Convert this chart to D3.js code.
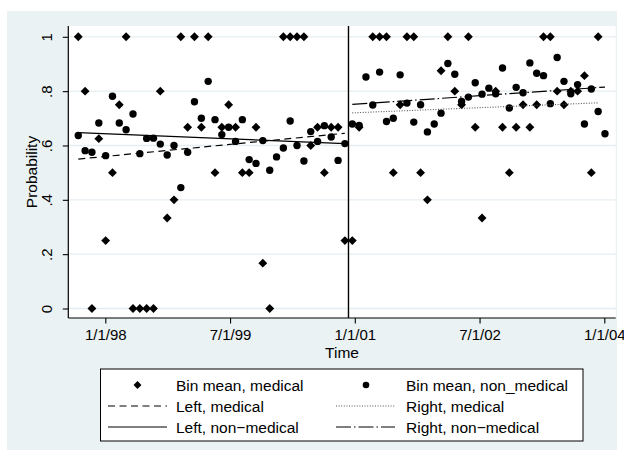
<!DOCTYPE html>
<html lang="en">
<head>
<meta charset="utf-8">
<title>Probability over time</title>
<script src="https://cdn.jsdelivr.net/npm/d3@7"></script>
<style>
  body { margin: 0; background: #fff; }
  text { font-family: "Liberation Sans", Arial, sans-serif; fill: #000; }
</style>
</head>
<body>
<script>

// bin midpoints (decimal years), left and right of the cutoff
var leftBins = [1997.675, 1997.757, 1997.839, 1997.922, 1998.004, 1998.086, 1998.168, 1998.250,
  1998.333, 1998.415, 1998.497, 1998.579, 1998.661, 1998.744, 1998.826, 1998.908, 1998.990,
  1999.072, 1999.155, 1999.237, 1999.319, 1999.401, 1999.483, 1999.566, 1999.648, 1999.730,
  1999.812, 1999.894, 1999.977, 2000.059, 2000.141, 2000.223, 2000.305, 2000.388, 2000.470,
  2000.552, 2000.634, 2000.716, 2000.799, 2000.881];
var rightBins = [2000.970, 2001.052, 2001.134, 2001.216, 2001.298, 2001.381, 2001.463, 2001.545,
  2001.627, 2001.709, 2001.791, 2001.873, 2001.955, 2002.037, 2002.119, 2002.202, 2002.284,
  2002.366, 2002.448, 2002.530, 2002.612, 2002.694, 2002.776, 2002.858, 2002.940, 2003.023,
  2003.105, 2003.187, 2003.269, 2003.351, 2003.433, 2003.515, 2003.597, 2003.679, 2003.761,
  2003.844, 2003.926, 2004.008];

var medLeft = [1, .8, 0, .625, .25, .5, .75, 1, 0, 0, 0, 0, .8, .333, .4, 1, .667, 1, .667, 1,
  .5, .667, .75, .667, .5, .5, .667, .167, 0, null, 1, 1, 1, 1, .6, .667, .5, .667, .667, .25];
var nonLeft = [.637, .581, .575, .683, .5625, .781, .683, .658, .716, .570, .626, .627, .605, .565,
  .60, .445, .575, .761, .70, .836, .695, .64, .667, .615, .695, .548, .534, .618, .509, .558,
  .591, .69, .60, .543, .651, .615, .673, .631, .545, .607];
var medRight = [.25, .667, null, 1, 1, 1, .5, .75, 1, 1, .5, .4, null, .875, 1, .8, .75, 1, .667,
  .333, null, .8, .667, .5, .667, .75, .667, .75, 1, 1, .8, .75, .8, .8, .857, .5, 1, null];
var nonRight = [.679, .674, .852, .749, .870, .688, .70, .860, .756, .686, .75, .65, .679, .719,
  .902, .862, .762, .778, .831, .789, .811, .79, .885, .738, .814, .794, .904, .866, .857, .754,
  .924, .836, .79, .824, .679, .808, .725, .643];

// fitted lines: [x0, y0, x1, y1]
var fitLeftMed = [1997.675, .550, 2000.881, .645];
var fitLeftNon = [1997.675, .647, 2000.881, .607];
var fitRightMed = [2000.970, .720, 2003.926, .757];
var fitRightNon = [2000.970, .751, 2004.008, .815];

var cutoff = 2000.924;

var xTicks = [1998, 1999.5, 2001, 2002.5, 2004];
var xTickLabels = ["1/1/98", "7/1/99", "1/1/01", "7/1/02", "1/1/04"];
var yTicks = [0, .2, .4, .6, .8, 1];
var yTickLabels = ["0", ".2", ".4", ".6", ".8", "1"];

var width = 624, height = 460;
var plot = {left: 68.3, right: 615.7, top: 26, bottom: 318};

var xscale = d3.scaleLinear().domain([1997.555, 2004.137]).range([plot.left, plot.right]);
var yscale = d3.scaleLinear().domain([0, 1]).range([308.5, 36.8]);

var svg = d3.select("body").append("svg")
  .attr("width", width)
  .attr("height", height);

svg.append("rect").attr("x", 7).attr("y", 11).attr("width", 610).attr("height", 439)
  .attr("fill", "#eaf2f3");
svg.append("rect")
  .attr("x", plot.left).attr("y", plot.top)
  .attr("width", plot.right - plot.left).attr("height", plot.bottom - plot.top)
  .attr("fill", "#fff");

// grid
svg.selectAll("line.grid").data(yTicks).enter().append("line")
  .attr("class", "grid")
  .attr("x1", plot.left).attr("x2", plot.right)
  .attr("y1", function(d){ return yscale(d); })
  .attr("y2", function(d){ return yscale(d); })
  .attr("stroke", "#e4edf0").attr("stroke-width", 1.3);

// axes
var yAxis = d3.axisLeft(yscale).tickValues(yTicks).tickSize(5.5)
  .tickFormat(function(d, i){ return yTickLabels[i]; });
var gy = svg.append("g").attr("transform", "translate(" + plot.left + ",0)").call(yAxis);
gy.select(".domain").remove();
gy.selectAll("text")
  .attr("font-size", 15).attr("font-family", "Liberation Sans, Arial, sans-serif")
  .attr("text-anchor", "middle")
  .attr("dy", null)
  .attr("x", 0).attr("y", 0)
  .attr("transform", "translate(-16.5,0) rotate(-90)");

var xAxis = d3.axisBottom(xscale).tickValues(xTicks).tickSize(5.5)
  .tickFormat(function(d, i){ return xTickLabels[i]; });
var gx = svg.append("g").attr("transform", "translate(0," + plot.bottom + ")").call(xAxis);
gx.select(".domain").remove();
gx.selectAll("text").attr("font-size", 15)
  .attr("font-family", "Liberation Sans, Arial, sans-serif")
  .attr("y", 21.5).attr("dy", null);

svg.selectAll(".tick line").attr("stroke", "#000").attr("stroke-width", 1.1);

svg.append("line").attr("x1", plot.left).attr("x2", plot.left)
  .attr("y1", plot.top).attr("y2", plot.bottom).attr("stroke", "#000").attr("stroke-width", 1.2);
svg.append("line").attr("x1", plot.left).attr("x2", plot.right)
  .attr("y1", plot.bottom).attr("y2", plot.bottom).attr("stroke", "#000").attr("stroke-width", 1.2);

svg.append("text").text("Time")
  .attr("x", (plot.left + plot.right) / 2).attr("y", 357.5)
  .attr("text-anchor", "middle").attr("font-size", 15.5);
svg.append("text").text("Probability")
  .attr("transform", "translate(36.5," + (plot.top + plot.bottom) / 2 + ") rotate(-90)")
  .attr("text-anchor", "middle").attr("font-size", 15.5);

// cutoff
svg.append("line")
  .attr("x1", xscale(cutoff)).attr("x2", xscale(cutoff))
  .attr("y1", plot.top).attr("y2", plot.bottom)
  .attr("stroke", "#000").attr("stroke-width", 1.4);

function pts(bins, vals) {
  var out = [];
  bins.forEach(function(b, i){ if (vals[i] != null) out.push([b, vals[i]]); });
  return out;
}
var medPts = pts(leftBins, medLeft).concat(pts(rightBins, medRight));
var nonPts = pts(leftBins, nonLeft).concat(pts(rightBins, nonRight));

var diamond = d3.symbol().type(d3.symbolDiamond2).size(50);

svg.append("g").selectAll("path").data(medPts).enter().append("path")
  .attr("d", diamond)
  .attr("transform", function(d){ return "translate(" + xscale(d[0]) + "," + yscale(d[1]) + ")"; })
  .attr("fill", "#000");

svg.append("g").selectAll("circle").data(nonPts).enter().append("circle")
  .attr("cx", function(d){ return xscale(d[0]); })
  .attr("cy", function(d){ return yscale(d[1]); })
  .attr("r", 3.7)
  .attr("fill", "#000");

var fits = [
  {f: fitLeftMed, dash: "7,4.5", w: 1.2, c: "#000"},
  {f: fitRightMed, dash: "1,1.6", w: 1.1, c: "#555"},
  {f: fitLeftNon, dash: null, w: 1.2, c: "#000"},
  {f: fitRightNon, dash: "15,3,1.5,3", w: 1.2, c: "#000"}
];
svg.append("g").selectAll("line").data(fits).enter().append("line")
  .attr("x1", function(d){ return xscale(d.f[0]); })
  .attr("y1", function(d){ return yscale(d.f[1]); })
  .attr("x2", function(d){ return xscale(d.f[2]); })
  .attr("y2", function(d){ return yscale(d.f[3]); })
  .attr("stroke", function(d){ return d.c; })
  .attr("stroke-width", function(d){ return d.w; })
  .attr("stroke-dasharray", function(d){ return d.dash; });

// legend
var lg = svg.append("g");
lg.append("rect").attr("x", 100.5).attr("y", 369).attr("width", 482.5).attr("height", 72)
  .attr("fill", "#fff").attr("stroke", "#000").attr("stroke-width", 1);

var legendItems = [
  {label: "Bin mean, medical", col: 0, row: 0, kind: "diamond"},
  {label: "Bin mean, non_medical", col: 1, row: 0, kind: "circle"},
  {label: "Left, medical", col: 0, row: 1, kind: "line", fit: fits[0]},
  {label: "Right, medical", col: 1, row: 1, kind: "line", fit: fits[1]},
  {label: "Left, non\u2212medical", col: 0, row: 2, kind: "line", fit: fits[2]},
  {label: "Right, non\u2212medical", col: 1, row: 2, kind: "line", fit: fits[3]}
];
var colKey = [108, 336], colText = [176, 406], rowY = [385, 406, 427];

legendItems.forEach(function(it){
  var y = rowY[it.row], x0 = colKey[it.col];
  if (it.kind == "diamond") {
    lg.append("path").attr("d", d3.symbol().type(d3.symbolDiamond2).size(40))
      .attr("transform", "translate(" + (x0 + 29.5) + "," + y + ")").attr("fill", "#000");
  } else if (it.kind == "circle") {
    lg.append("circle").attr("cx", x0 + 30).attr("cy", y).attr("r", 3.3).attr("fill", "#000");
  } else {
    lg.append("line").attr("x1", x0).attr("x2", x0 + 59).attr("y1", y).attr("y2", y)
      .attr("stroke", it.fit.c).attr("stroke-width", it.fit.w)
      .attr("stroke-dasharray", it.fit.dash);
  }
  lg.append("text").text(it.label).attr("x", colText[it.col]).attr("y", y + 5.5)
    .attr("font-size", 15.5);
});

</script>
</body>
</html>
